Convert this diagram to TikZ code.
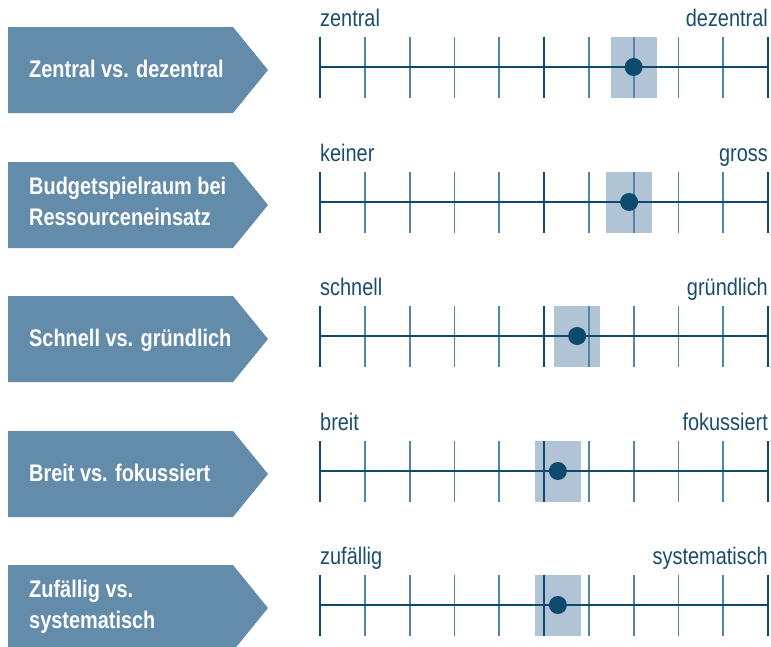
\documentclass[tikz,border=0pt]{standalone}
\usepackage{fontspec}
\setmainfont{Liberation Sans}[FakeStretch=0.83]
\definecolor{arrowfill}{HTML}{638BAA}
\definecolor{hilite}{HTML}{B1C4D5}
\definecolor{darkblue}{HTML}{0D4A6E}
\definecolor{minorblue}{HTML}{5485A6}
\definecolor{txtblue}{HTML}{1A4C6C}
\begin{document}
\begin{tikzpicture}[x=1pt,y=-1pt,
  arrowshape/.style={fill=arrowfill},
  arrowtext/.style={anchor=base west, inner sep=0pt, text=white, font=\bfseries\fontsize{24}{31}\selectfont},
  endlabel/.style={inner sep=0pt, text=txtblue, font=\fontsize{24}{29}\selectfont},
  majortick/.style={draw=darkblue, line width=2.8pt},
  minortick/.style={draw=minorblue, line width=1.8pt},
  axisline/.style={draw=darkblue, line width=2.8pt},
  hilitebox/.style={fill=hilite},
  markdot/.style={fill=darkblue}]
\useasboundingbox (0,0) rectangle (771,646);
% scales
\foreach \Y/\L/\R/\P [count=\n] in {67/zentral/dezentral/7.0, 202/keiner/gross/6.9, 336/schnell/gründlich/5.74, 471/breit/fokussiert/5.31, 605/zufällig/systematisch/5.31}{
  % arrow
  \fill[arrowshape] (8,\Y-40) -- (233,\Y-40) -- (268,\Y+3) -- (233,\Y+46) -- (8,\Y+46) -- cycle;
  % highlight
  \fill[hilitebox] ({320+\P*44.8-23},\Y-30.5) rectangle ({320+\P*44.8+23},\Y+30.5);
  % ticks
  \foreach \k in {1,2,3,4,6,7,8,9}{
    \draw[minortick] ({320+\k*44.8},\Y-30.5) -- ({320+\k*44.8},\Y+30.5);
  }
  \foreach \k in {0,5,10}{
    \draw[majortick] ({320+\k*44.8},\Y-30.5) -- ({320+\k*44.8},\Y+30.5);
  }
  \coordinate (s\n a) at (320,\Y);
  \coordinate (s\n b) at (768,\Y);
  \draw[axisline] (s\n a) -- (s\n b);
  \fill[markdot] ({320+\P*44.8},\Y) circle (9);
  \node[endlabel, anchor=base west] (l\n) at (320,\Y-41) {\L};
  \node[endlabel, anchor=base east] (r\n) at (768,\Y-41) {\R};
}
% arrow texts
\node[arrowtext] (t1) at (29,77) {Zentral vs. dezentral};
\node[arrowtext] (t2a) at (29,194) {Budgetspielraum bei};
\node[arrowtext] (t2b) at (29,225) {Ressourceneinsatz};
\node[arrowtext] (t3) at (29,346) {Schnell vs. gründlich};
\node[arrowtext] (t4) at (29,481) {Breit vs. fokussiert};
\node[arrowtext] (t5a) at (29,597) {Zufällig vs.};
\node[arrowtext] (t5b) at (29,628) {systematisch};
\end{tikzpicture}
\end{document}
